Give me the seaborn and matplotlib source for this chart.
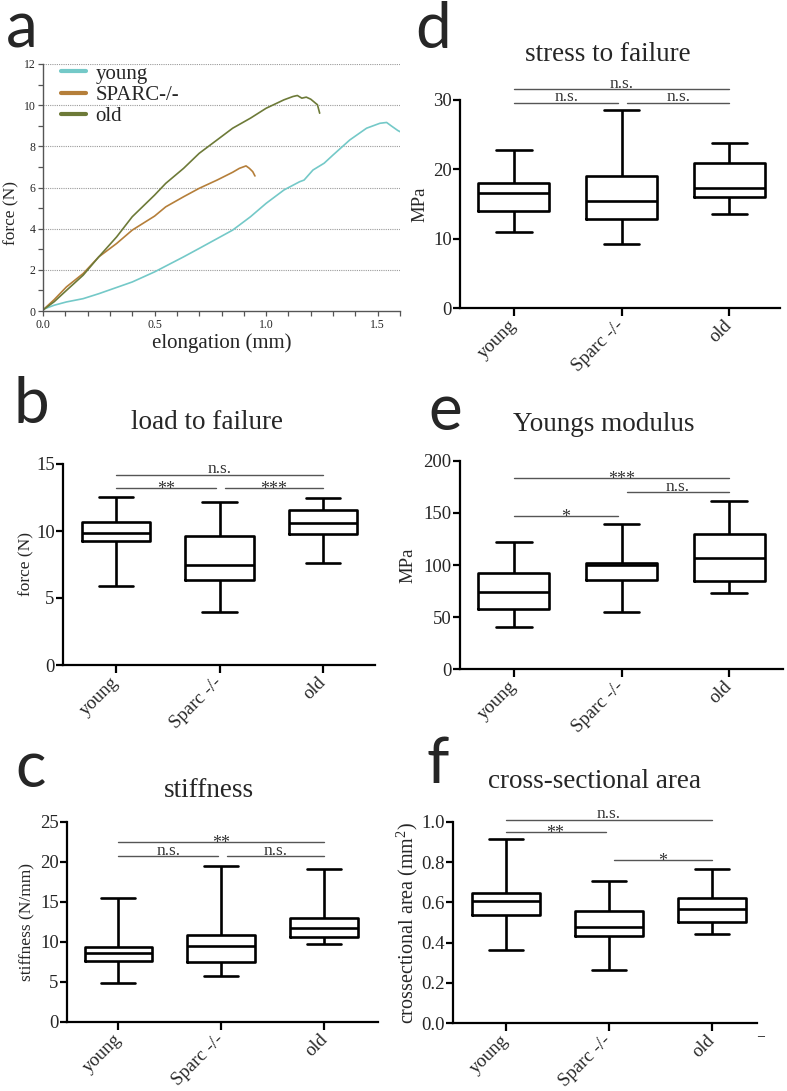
import numpy as np
import pandas as pd
import matplotlib
matplotlib.use("Agg")
import matplotlib.pyplot as plt
import seaborn as sns
from matplotlib.ticker import MultipleLocator

# ---------------- data ----------------
groups = ["young", "Sparc -/-", "old"]

# panel a: force-elongation curves
curve_names = ["young", "SPARC-/-", "old"]
young_x = [0.0, 0.05, 0.105, 0.18, 0.25, 0.40, 0.50, 0.63, 0.70, 0.85, 0.93, 1.00, 1.08, 1.15, 1.17,
           1.21, 1.26, 1.30, 1.375, 1.45, 1.51, 1.54, 1.56, 1.59, 1.62]
young_f = [0.08, 0.28, 0.44, 0.60, 0.84, 1.41, 1.90, 2.63, 3.04, 3.93, 4.58, 5.23, 5.88, 6.28, 6.36,
           6.85, 7.18, 7.58, 8.31, 8.88, 9.12, 9.16, 9.00, 8.77, 8.6]
sparc_x = [0.0, 0.05, 0.105, 0.18, 0.25, 0.33, 0.40, 0.50, 0.55, 0.63, 0.70, 0.78, 0.85, 0.88, 0.91,
           0.925, 0.94, 0.95]
sparc_f = [0.05, 0.55, 1.17, 1.82, 2.63, 3.28, 3.93, 4.61, 5.06, 5.55, 5.96, 6.36, 6.74, 6.93, 7.05,
           6.93, 6.77, 6.56]
old_x = [0.0, 0.05, 0.105, 0.18, 0.25, 0.33, 0.40, 0.50, 0.55, 0.63, 0.70, 0.78, 0.85, 0.93, 1.00,
         1.08, 1.12, 1.14, 1.16, 1.18, 1.20, 1.23, 1.24]
old_f = [0.05, 0.45, 1.00, 1.74, 2.63, 3.60, 4.58, 5.63, 6.20, 6.93, 7.66, 8.31, 8.88, 9.37, 9.85,
         10.26, 10.42, 10.47, 10.34, 10.39, 10.29, 10.02, 9.61]

# box panels: [min, Q1, median, Q3, max]
load_young = [5.92, 9.29, 9.83, 10.66, 12.57]
load_sparc = [3.98, 6.37, 7.49, 9.61, 12.17]
load_old = [7.64, 9.78, 10.58, 11.55, 12.50]

stiff_young = [4.87, 7.58, 8.58, 9.40, 15.50]
stiff_sparc = [5.80, 7.45, 9.50, 10.90, 19.50]
stiff_old = [9.80, 10.60, 11.70, 13.04, 19.16]

stress_young = [10.9, 14.0, 16.6, 18.1, 22.8]
stress_sparc = [9.2, 12.8, 15.5, 19.0, 28.6]
stress_old = [13.6, 16.0, 17.3, 20.9, 23.8]

modulus_young = [40.3, 58.1, 74.1, 92.6, 122.3]
modulus_sparc = [55.2, 85.6, 100.0, 102.2, 139.3]
modulus_old = [72.9, 84.7, 107.0, 130.0, 161.6]

area_young = [0.362, 0.539, 0.607, 0.649, 0.914]
area_sparc = [0.266, 0.433, 0.478, 0.559, 0.706]
area_old = [0.441, 0.502, 0.567, 0.620, 0.768]

# significance bars: (from group, to group, height, label)
load_sig = [(0, 2, 14.19, "n.s."), (0, 1, 13.24, "**"), (1, 2, 13.24, "***")]
stiff_sig = [(0, 2, 22.5, "**"), (0, 1, 20.7, "n.s."), (1, 2, 20.7, "n.s.")]
stress_sig = [(0, 2, 31.6, "n.s."), (0, 1, 29.6, "n.s."), (1, 2, 29.6, "n.s.")]
modulus_sig = [(0, 2, 184.0, "***"), (1, 2, 170.0, "n.s."), (0, 1, 147.0, "*")]
area_sig = [(0, 2, 1.012, "n.s."), (0, 1, 0.95, "**"), (1, 2, 0.813, "*")]

# ---------------- style ----------------
sns.set_theme(style="white")
plt.rcParams["font.family"] = ["Liberation Serif", "DejaVu Serif"]
plt.rcParams["mathtext.fontset"] = "custom"
plt.rcParams["mathtext.rm"] = "Liberation Serif"

W, H = 787, 1091
fig = plt.figure(figsize=(W / 100, H / 100), dpi=100)
fig.patch.set_facecolor("white")


def rect(l, t, r, b):
    return [l / W, 1 - b / H, (r - l) / W, (b - t) / H]


def fx(x):
    return x / W


def fy(y):
    return 1 - y / H


LETTER_FONT = ["Lato", "DejaVu Sans"]

# ---------------- panel a ----------------
ax = fig.add_axes(rect(43, 64, 400, 311))
curves = pd.concat([
    pd.DataFrame({"elongation": young_x, "force": young_f, "group": curve_names[0]}),
    pd.DataFrame({"elongation": sparc_x, "force": sparc_f, "group": curve_names[1]}),
    pd.DataFrame({"elongation": old_x, "force": old_f, "group": curve_names[2]}),
])
palette = {"young": "#74c9c8", "SPARC-/-": "#b57f3a", "old": "#6d7a38"}
sns.lineplot(data=curves, x="elongation", y="force", hue="group", palette=palette,
             estimator=None, sort=False, linewidth=1.2, ax=ax)
ax.set_xlim(0, 1.6)
ax.set_ylim(0, 12)
ax.xaxis.set_major_locator(MultipleLocator(0.5))
ax.xaxis.set_minor_locator(MultipleLocator(0.1))
ax.yaxis.set_major_locator(MultipleLocator(2))
ax.yaxis.set_minor_locator(MultipleLocator(1))
ax.xaxis.set_major_formatter(matplotlib.ticker.FormatStrFormatter("%.1f"))
for y in range(2, 13, 2):
    ax.axhline(y, color="#9a9a9a", lw=0.8, ls=(0, (1, 1)), zorder=0)
for s in ["top", "right"]:
    ax.spines[s].set_visible(False)
for s in ["left", "bottom"]:
    ax.spines[s].set_color("#555555")
    ax.spines[s].set_linewidth(1.0)
ax.tick_params(axis="both", which="both", direction="out", length=3.5, width=0.9,
               color="#555555", labelsize=8.5, pad=2, left=True, bottom=True)
ax.set_xlabel("elongation (mm)", fontsize=15, labelpad=2)
ax.set_ylabel("force (N)", fontsize=12.5, va="center", ha="center")
ax.yaxis.set_label_coords((11 - 43) / (400 - 43), (311 - 213) / (311 - 64))
handles, labels = ax.get_legend_handles_labels()
leg = ax.legend(handles, labels, loc="upper left", bbox_to_anchor=(0.05, 1.0), frameon=False,
                fontsize=15, handlelength=1.2, handletextpad=0.45, labelspacing=0.08,
                borderpad=0, borderaxespad=0)
for h in leg.get_lines():
    h.set_linewidth(3)

# ---------------- box panels ----------------
def box_panel(rect_px, values, ylim, yticks, sig, xlim, ylabel, ylabel_fs, ylabel_x, fmt=None):
    l, t, r, b = rect_px
    ax = fig.add_axes(rect(l, t, r, b))
    df = pd.DataFrame({
        "group": np.repeat(groups, 5),
        "value": np.concatenate(values),
    })
    sns.boxplot(data=df, x="group", y="value", order=groups, whis=(0, 100), width=0.66,
                fill=False, color="black", linewidth=1.9, showfliers=False, ax=ax)
    ax.set_xlim(*xlim)
    ax.set_ylim(*ylim)
    ax.set_yticks(yticks)
    if fmt:
        ax.set_yticklabels([fmt.format(v) for v in yticks])
    for s in ["top", "right"]:
        ax.spines[s].set_visible(False)
    for s in ["left", "bottom"]:
        ax.spines[s].set_color("black")
        ax.spines[s].set_linewidth(1.6)
    ax.tick_params(axis="y", direction="out", length=5, width=1.6, color="black",
                   labelsize=13.5, pad=1, left=True)
    ax.tick_params(axis="x", direction="out", length=6, width=1.6, color="black",
                   labelsize=13.5, pad=5, bottom=True)
    ax.set_xticks(range(3))
    ax.set_xticklabels(groups, rotation=45, ha="right", va="center", rotation_mode="anchor")
    ax.set_xlabel("")
    ax.set_ylabel(ylabel, fontsize=ylabel_fs, va="center", ha="center")
    ax.yaxis.set_label_coords((ylabel_x - l) / (r - l), 0.5)
    for i, j, yv, lab in sig:
        x0 = i + (0.05 if i == 1 else 0.0)
        x1 = j - (0.03 if j == 1 else 0.0)
        ax.plot([x0, x1], [yv, yv], color="#555555", lw=1.0, clip_on=False)
        star = lab.startswith("*")
        ax.annotate(lab, xy=((x0 + x1) / 2, yv), xytext=(0, -4.5 if star else 1),
                    textcoords="offset points", ha="center", va="baseline",
                    fontsize=12.5 if not star else 13, color="#333333",
                    annotation_clip=False)
    return ax


box_panel((63, 464, 375, 665), [load_young, load_sparc, load_old], (0, 15), [0, 5, 10, 15],
          load_sig, (-0.51, 2.50), "force (N)", 12.5, 26)
box_panel((67, 822, 378, 1022), [stiff_young, stiff_sparc, stiff_old], (0, 25), [0, 5, 10, 15, 20, 25],
          stiff_sig, (-0.50, 2.52), "stiffness (N/mm)", 12.5, 27)
box_panel((460, 100, 780, 308), [stress_young, stress_sparc, stress_old], (0, 30), [0, 10, 20, 30],
          stress_sig, (-0.50, 2.47), "MPa", 13.5, 420)
box_panel((460, 461, 783, 669), [modulus_young, modulus_sparc, modulus_old], (0, 200), [0, 50, 100, 150, 200],
          modulus_sig, (-0.50, 2.50), "MPa", 13.5, 408)
box_panel((453, 822, 757, 1023), [area_young, area_sparc, area_old], (0, 1.0), [0, 0.2, 0.4, 0.6, 0.8, 1.0],
          area_sig, (-0.51, 2.44), "crossectional area (mm$^2$)", 14.5, 407, fmt="{:.1f}")

# ---------------- titles and panel letters ----------------
titles = [("stress to failure", 608, 61), ("load to failure", 207, 429), ("Youngs modulus", 604, 431),
          ("stiffness", 209, 797), ("cross-sectional area", 595, 788)]
for txt, x, y in titles:
    fig.text(fx(x), fy(y), txt, ha="center", va="baseline", fontsize=19.5)

letters = [("a", 6, 47), ("d", 415, 48), ("b", 13, 423), ("e", 428, 430), ("c", 15, 787), ("f", 426, 783)]
for txt, x, y in letters:
    fig.text(fx(x), fy(y), txt, ha="left", va="baseline", fontsize=46, family=LETTER_FONT)

fig.text(fx(761), fy(1037), "\u2013", ha="center", va="center", fontsize=10, color="black")

fig.savefig("out.png", dpi=100, facecolor="white")
